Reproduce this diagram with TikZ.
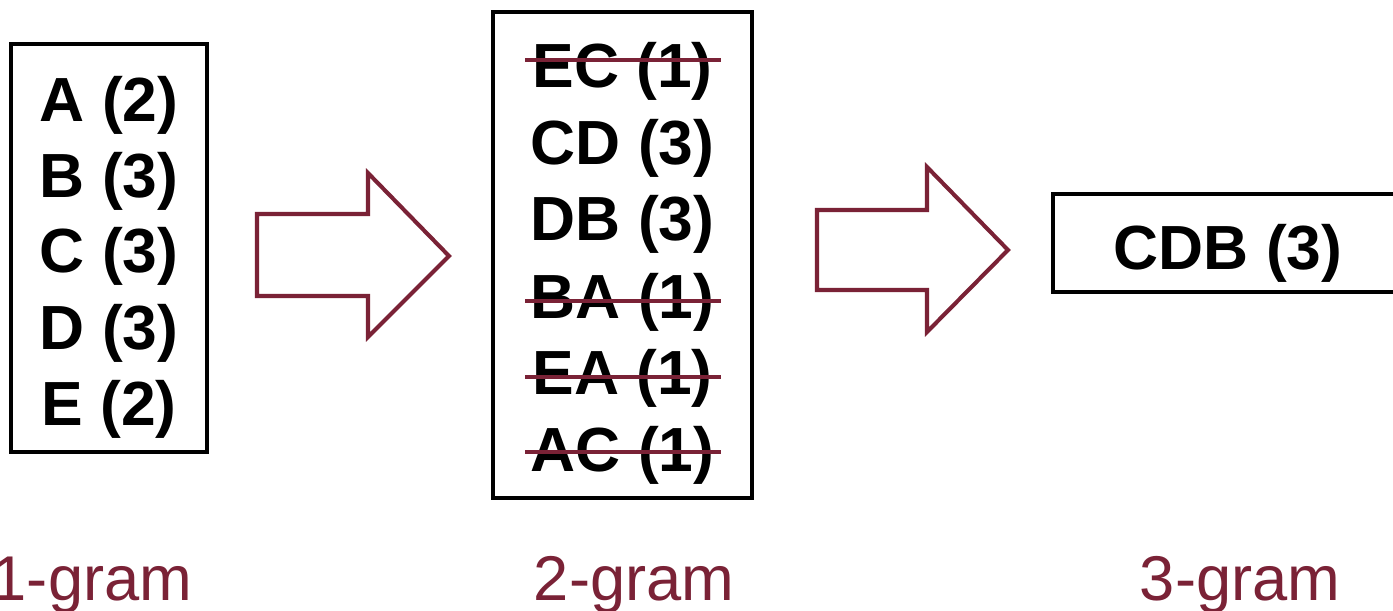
\documentclass[tikz,border=0pt]{standalone}
\usepackage{fontspec}
\setmainfont{Liberation Sans}
\usepackage{tikz}
\usetikzlibrary{positioning}
\definecolor{gramred}{RGB}{122,34,54}
\tikzset{
  entry/.style={font=\fontsize{35.5}{42}\selectfont\bfseries, inner sep=0pt, anchor=base},
  gram/.style={font=\fontsize{36}{42}\selectfont, text=gramred, inner sep=0pt, anchor=base},
  box/.style={draw=black, line width=2pt},
  strike/.style={draw=gramred, line width=2.4pt},
  bigarrow/.style={draw=gramred, line width=2.3pt, line join=miter}
}

\begin{document}
\begin{tikzpicture}[x=0.02cm,y=-0.02cm]

\clip (0,0) rectangle (1393,611);
\fill[white] (0,0) rectangle (1393,611);

% 1-gram
\draw[box] (11,44) rectangle (207,452);
\node[entry] (a) at (109,122) {A (2)};
\node[entry] (b) at (109,198) {B (3)};
\node[entry] (c) at (109,273) {C (3)};
\node[entry] (d) at (109,349) {D (3)};
\node[entry] (e) at (109,425) {E (2)};

% 2-gram
\draw[box] (493,12) rectangle (752,498);
\node[entry] (ec) at (622.5,88)  {EC (1)};
\node[entry] (cd) at (622.5,165) {CD (3)};
\node[entry] (db) at (622.5,241) {DB (3)};
\node[entry] (ba) at (622.5,318) {BA (1)};
\node[entry] (ea) at (622.5,394) {EA (1)};
\node[entry] (ac) at (622.5,471) {AC (1)};

% Pruned pairs
\draw[strike] (525,60)  -- (721,60);
\draw[strike] (525,301) -- (721,301);
\draw[strike] (525,377) -- (721,377);
\draw[strike] (525,452) -- (721,452);

% 3-gram
\draw[box] (1053,194) rectangle (1410,292);
\node[entry] (cdb) at (1228,270) {CDB (3)};

% Arrows
\draw[bigarrow] (257,214) -- (368,214) -- (368,173) -- (449,256)
  -- (368,337) -- (368,296) -- (257,296) -- cycle;
\draw[bigarrow] (817,210) -- (927,210) -- (927,167) -- (1008,250)
  -- (927,332) -- (927,290) -- (817,290) -- cycle;

% Labels
\node[gram] (g1) at (92,600)   {1-gram};
\node[gram] (g2) at (634,600)  {2-gram};
\node[gram] (g3) at (1240,600) {3-gram};

\end{tikzpicture}
\end{document}
